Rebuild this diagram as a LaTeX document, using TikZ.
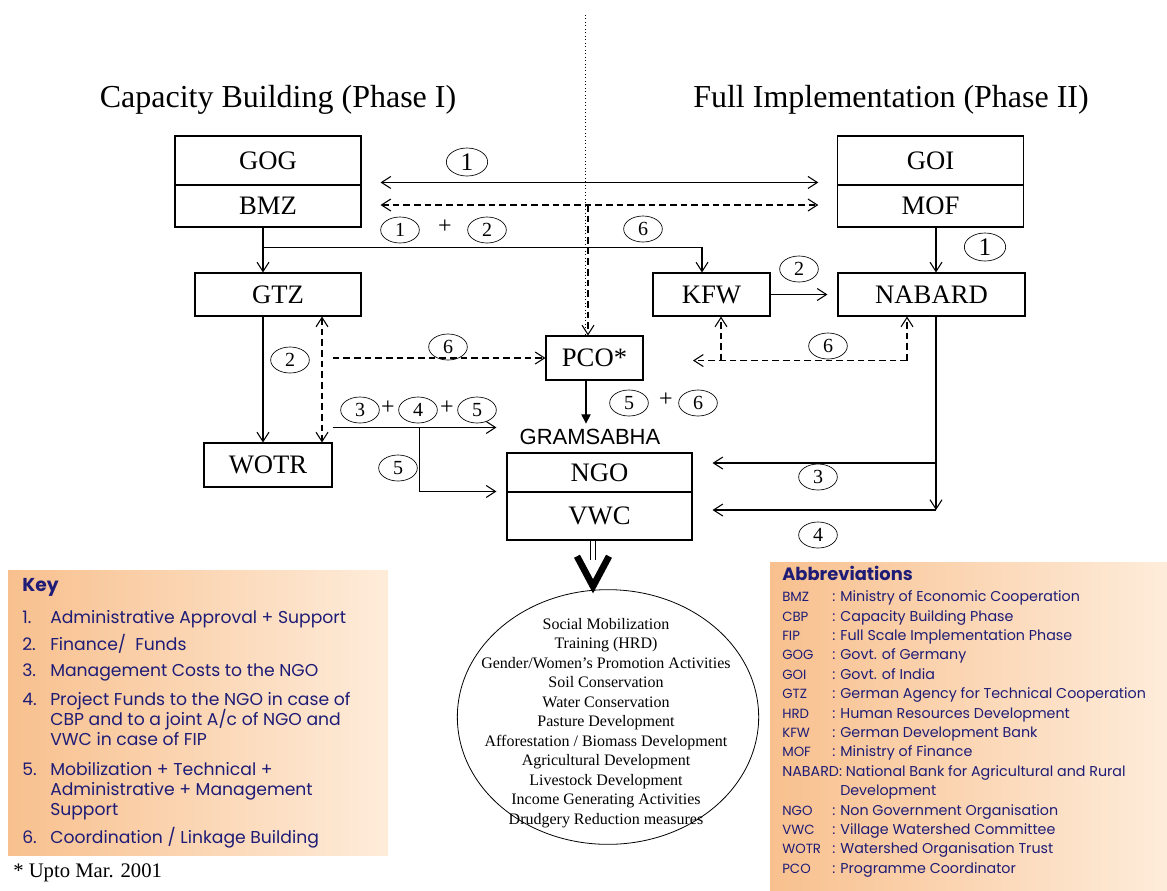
\documentclass[tikz,border=0pt]{standalone}
\usepackage{fontspec}
\setmainfont{Liberation Serif}
\newfontfamily\keyfont{Poppins}
\newfontfamily\gramfont{Liberation Sans}
\usepackage{xcolor}
\definecolor{keyblue}{RGB}{30,28,118}
\definecolor{peachL}{RGB}{248,192,142}
\definecolor{peachR}{RGB}{254,236,218}
\usetikzlibrary{calc, positioning}
\usetikzlibrary{arrows.meta}
\usetikzlibrary{shapes.geometric}

\begin{document}
\begin{tikzpicture}[x=0.75pt,y=-0.75pt,
  box/.style={draw,line width=0.8pt,inner sep=0pt,font=\fontsize{20}{22}\selectfont},
  num/.style={draw,ellipse,line width=0.5pt,minimum width=29pt,minimum height=19.5pt,inner sep=0pt,font=\fontsize{15}{16}\selectfont},
  bignum/.style={num,minimum width=31pt,minimum height=21pt,font=\fontsize{19}{20}\selectfont},
  plus/.style={inner sep=0pt,font=\fontsize{18}{18}\selectfont},
  arr/.style={line width=0.8pt,-{Straight Barb[length=7pt,width=9pt]}},
  arrs/.style={line width=0.8pt,{Straight Barb[length=7pt,width=9pt]}-{Straight Barb[length=7pt,width=9pt]}},
  dsh/.style={dash pattern=on 5pt off 3pt},
  keytxt/.style={anchor=west,inner sep=0pt,text=keyblue,font=\keyfont\fontsize{12.9}{14}\selectfont,text height=1.6ex,text depth=.4ex},
  abbtxt/.style={anchor=west,inner sep=0pt,text=keyblue,font=\keyfont\fontsize{10.7}{12}\selectfont,text height=1.6ex,text depth=.4ex},
  abbkey/.style={abbtxt,font=\keyfont\fontsize{10}{11}\selectfont}]
\useasboundingbox (0,0) rectangle (1167,890);
% titles
\node[font=\fontsize{24}{26}\selectfont] (capt) at (278,100) {Capacity Building (Phase I)};
\node[font=\fontsize{24}{26}\selectfont] (fullt) at (891,100) {Full Implementation (Phase II)};
% boxes
\node[box,minimum width=139.5pt,minimum height=36.75pt] (gog) at (268,160.5) {GOG};
\node[box,minimum width=139.5pt,minimum height=31.5pt] (bmz) at (268,206) {BMZ};
\node[box,minimum width=139pt,minimum height=36.75pt] (goi) at (930.5,160.5) {GOI};
\node[box,minimum width=139pt,minimum height=31.5pt] (mof) at (930.5,206) {MOF};
\node[box,minimum width=124.5pt,minimum height=32.25pt] (gtz) at (278,294.5) {GTZ};
\node[box,minimum width=87.75pt,minimum height=32.25pt] (kfw) at (711.5,294.5) {KFW};
\node[box,minimum width=140.25pt,minimum height=32.25pt] (nabard) at (931.5,294.5) {NABARD};
\node[box,minimum width=72.75pt,minimum height=33pt] (pco) at (594.5,358) {PCO*};
\node[box,minimum width=96pt,minimum height=33pt] (wotr) at (268,465) {WOTR};
\node[font=\gramfont\fontsize{16.5}{18}\selectfont,inner sep=1pt] (gram) at (590,437) {GRAMSABHA};
\node[box,minimum width=138.75pt,minimum height=29.25pt] (ngo) at (599.5,472.5) {NGO};
\node[box,minimum width=138.75pt,minimum height=36pt] (vwc) at (599.5,516) {VWC};
\node[draw,ellipse,line width=0.6pt,minimum width=226pt,minimum height=191pt] (acts) at (608,717) {};
\node[align=center,font=\fontsize{12}{14.6}\selectfont] (actstxt) at (606,723) {Social Mobilization\\Training (HRD)\\Gender/Women’s Promotion Activities\\Soil Conservation\\Water Conservation\\Pasture Development\\Afforestation / Biomass Development\\Agricultural Development\\Livestock Development\\Income Generating Activities\\Drudgery Reduction measures};
% phase I <-> phase II
\draw[arrs] ($(bmz.north east)+(19,-2)$) -- ($(mof.north west)+(-19,-2)$);
\draw[arrs,dsh] ($(bmz.east)+(19,-1)$) -- ($(mof.west)+(-19,-1)$);
\node[bignum] (n1a) at (467,162) {1};
\node[num] (n1b) at (400,230) {1};
\node[plus] (p1) at (445,227) {+};
\node[num] (n2a) at (487,230) {2};
% from BMZ
\coordinate (bz) at ($(bmz.south)+(-5,0)$);
\draw[arr] (bz) -- (bz |- gtz.north);
\draw[arr] ($(bz)+(0,20)$) -| ($(kfw.north)+(-9.5,0)$);
\node[num] (n6a) at (643,229) {6};
\draw[arr] ($(mof.south)+(5.5,0)$) -- ($(nabard.north)+(4.5,0)$);
\node[bignum] (n1c) at (985,247) {1};
\draw[arr,shorten >=7.5pt] (kfw.east) -- (nabard.west);
\node[num] (n2b) at (799,269) {2};
% divider and PCO link
\coordinate (dtop) at (585,15);
\draw[dotted,line width=0.6pt] (dtop) -- (dtop |- pco.north);
\coordinate (pt) at (588,205);
\draw[arr,dsh] (pt) -- (pt |- pco.north);
% GTZ and WOTR
\draw[arr] (bz |- gtz.south) -- (bz |- wotr.north);
\node[num] (n2c) at (290,360) {2};
\draw[arrs,dsh] ($(gtz.south)+(44,0)$) -- ($(wotr.north)+(54,0)$);
\draw[arr,dsh] (wotr.east |- pco.west) -- (pco.west);
\node[num] (n6b) at (448,347) {6};
\coordinate (w1) at ($(wotr.north east)+(0,-15)$);
\coordinate (w3) at ($(w1)+(87,0)$);
\draw[arr,shorten >=7.5pt] (w1) -- (w1 -| ngo.west);
\draw[arr,shorten >=7.5pt] (w3) |- (vwc.north west);
\node[num] (n3a) at (360,410) {3};
\node[plus] (p2) at (388,408) {+};
\node[num] (n4a) at (418,410) {4};
\node[plus] (p3) at (447,408) {+};
\node[num] (n5a) at (477,410) {5};
\node[num] (n5b) at (398,468) {5};
% PCO to gramsabha
\draw[line width=0.8pt,-{Triangle[length=7pt,width=7pt]}] ($(pco.south)+(-8.5,0)$) -- ($(gram.north)+(-4,-4)$);
\node[num] (n5c) at (629,403) {5};
\node[plus] (p4) at (666,400) {+};
\node[num] (n6d) at (698,403) {6};
% NABARD to NGO / VWC
\coordinate (nb) at ($(nabard.south)+(4.5,0)$);
\coordinate (ve) at ($(vwc.east)+(0,-6)$);
\coordinate (ne) at ($(ngo.east)+(0,-9.5)$);
\draw[arr] (nb) -- (nb |- ve);
\draw[arr,shorten >=15pt] (nb |- ve) -- (ve);
\draw[arr,shorten >=15pt] (nb |- ne) -- (ne);
\node[num] (n3b) at (818,477) {3};
\node[num] (n4b) at (818,535) {4};
% NABARD <-> KFW
\coordinate (nd) at ($(nabard.south)+(-24.5,44)$);
\coordinate (kd) at ($(kfw.south)+(9.5,44)$);
\draw[arr,dsh] (nd) -- (nd |- nabard.south);
\draw[arr,dsh] (nd) -- ($(kd)+(-28,0)$);
\draw[arr,dsh] (kd) -- (kd |- kfw.south);
\node[num] (n6c) at (828,346) {6};
% VWC => activities
\coordinate (dv) at ($(vwc.south)+(-6.5,0)$);
\coordinate (tip) at ($(dv |- acts.north)+(0,-3)$);
\draw[double,double distance=3pt,line width=0.8pt] (dv) -- ($(tip)+(0,-26)$);
\draw[line width=5pt] ($(tip)+(-16,-30)$) -- (tip) -- ($(tip)+(16,-30)$);
% key
\fill[left color=peachL,right color=peachR] (8,570) rectangle (388,855);
\node[keytxt,font=\keyfont\bfseries\fontsize{14}{16}\selectfont] (keyt) at (22,588) {Key};
\foreach \n/\y in {1/620,2/647,3/673,4/702,5/772,6/840}
  \node[keytxt] (kn\n) at (22,\y) {\n.};
\foreach \y/\t in {620/{Administrative Approval + Support},647/{Finance/\ \ Funds},
  673/{Management Costs to the NGO},702/{Project Funds to the NGO in case of},
  722/{CBP and to a joint A/c of NGO and},742/{VWC in case of FIP},
  772/{Mobilization + Technical +},792/{Administrative + Management},
  812/{Support},840/{Coordination / Linkage Building}}
  \node[keytxt] at (50,\y) {\t};
\node[anchor=west,inner sep=0pt,font=\fontsize{15.5}{17}\selectfont] (upto) at (13,873) {* Upto Mar. 2001};
% abbreviations
\fill[left color=peachL,right color=peachR] (770,562) rectangle (1167,890);
\node[keytxt,font=\keyfont\bfseries\fontsize{13.4}{15}\selectfont] (abbt) at (782,577) {Abbreviations};
\foreach \i/\a/\t in {0/BMZ/{Ministry of Economic Cooperation},1/CBP/{Capacity Building Phase},
  2/FIP/{Full Scale Implementation Phase},3/GOG/{Govt. of Germany},4/GOI/{Govt. of India},
  5/GTZ/{German Agency for Technical Cooperation},6/HRD/{Human Resources Development},
  7/KFW/{German Development Bank},8/MOF/{Ministry of Finance},
  11/NGO/{Non Government Organisation},12/VWC/{Village Watershed Committee},
  13/WOTR/{Watershed Organisation Trust},14/PCO/{Programme Coordinator}}
{
  \node[abbkey] at (782,598+19.4*\i) {\a};
  \node[abbtxt] at (832,598+19.4*\i) {: \t};
}
\node[abbtxt] (nabt) at (782,598+19.4*9) {NABARD: National Bank for Agricultural and Rural};
\node[abbtxt] (nabd) at (840,598+19.4*10) {Development};
\end{tikzpicture}
\end{document}
